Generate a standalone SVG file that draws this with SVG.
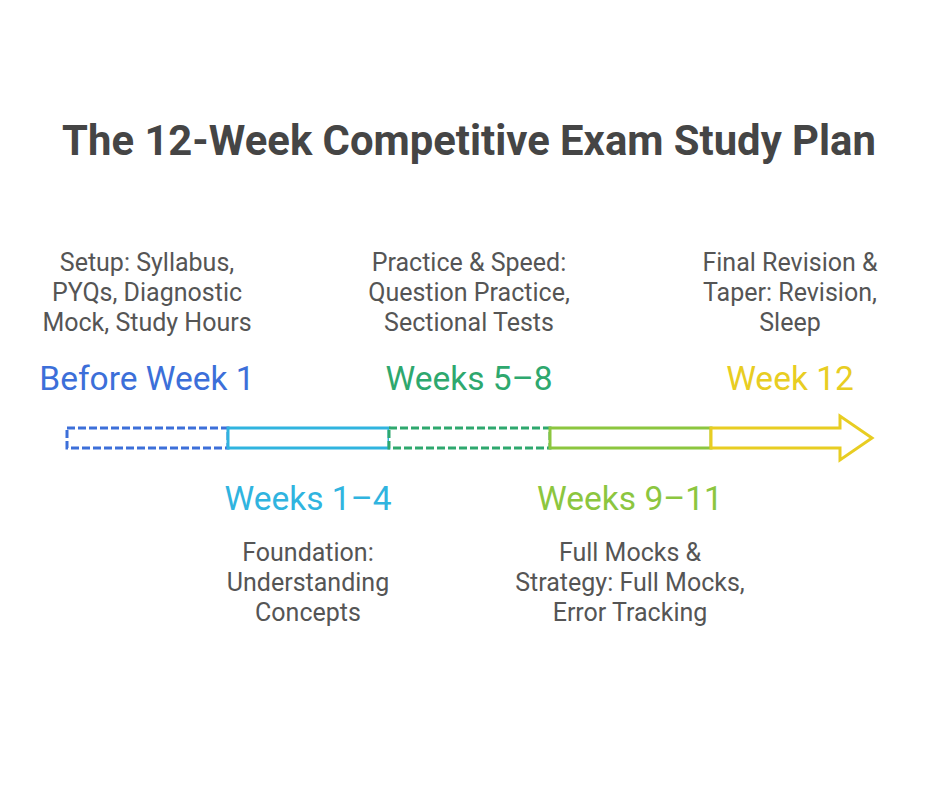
<svg xmlns="http://www.w3.org/2000/svg" width="940" height="788" viewBox="0 0 940 788">
<style>
.title{font-family:Roboto,"Liberation Sans",sans-serif;font-weight:bold;font-size:41.8px;fill:#454545;text-anchor:middle}
.lbl{font-family:Roboto,"Liberation Sans",sans-serif;font-size:33.5px;text-anchor:middle}
.desc{font-family:Roboto,"Liberation Sans",sans-serif;font-size:25px;fill:#555;text-anchor:middle}
.seg{fill:#fff;stroke-width:3}
</style>
<rect width="940" height="788" fill="#fff"/>
<text class="title" x="469" y="155">The 12-Week Competitive Exam Study Plan</text>
<g id="connectors">
<rect class="seg" x="67" y="428" width="161" height="20" stroke="#3c6fd9" stroke-dasharray="8 3"/>
<rect class="seg" x="228" y="428" width="161" height="20" stroke="#30b4df"/>
<rect class="seg" x="389" y="428" width="161" height="20" stroke="#2ea86e" stroke-dasharray="8 3"/>
<rect class="seg" x="550" y="428" width="161" height="20" stroke="#8cc63f"/>
<path class="seg" d="M711 428 H840 V416 L872 438 L840 460 V448 H711 Z" stroke="#e8cd22" stroke-linejoin="miter"/>
</g>
<g id="before-week-1">
<text class="desc" x="147" y="271">Setup: Syllabus,</text>
<text class="desc" x="147" y="301">PYQs, Diagnostic</text>
<text class="desc" x="147" y="331">Mock, Study Hours</text>
<text class="lbl" x="147" y="390" fill="#3c6fd9">Before Week 1</text>
</g>
<g id="weeks-1-4">
<text class="lbl" x="308" y="510" fill="#30b4df">Weeks 1–4</text>
<text class="desc" x="308" y="561">Foundation:</text>
<text class="desc" x="308" y="591">Understanding</text>
<text class="desc" x="308" y="621">Concepts</text>
</g>
<g id="weeks-5-8">
<text class="desc" x="469" y="271">Practice &amp; Speed:</text>
<text class="desc" x="469" y="301">Question Practice,</text>
<text class="desc" x="469" y="331">Sectional Tests</text>
<text class="lbl" x="469" y="390" fill="#2ea86e">Weeks 5–8</text>
</g>
<g id="weeks-9-11">
<text class="lbl" x="630" y="510" fill="#8cc63f">Weeks 9–11</text>
<text class="desc" x="630" y="561">Full Mocks &amp;</text>
<text class="desc" x="630" y="591">Strategy: Full Mocks,</text>
<text class="desc" x="630" y="621">Error Tracking</text>
</g>
<g id="week-12">
<text class="desc" x="790" y="271">Final Revision &amp;</text>
<text class="desc" x="790" y="301">Taper: Revision,</text>
<text class="desc" x="790" y="331">Sleep</text>
<text class="lbl" x="790" y="390" fill="#e8cd22">Week 12</text>
</g>
</svg>
